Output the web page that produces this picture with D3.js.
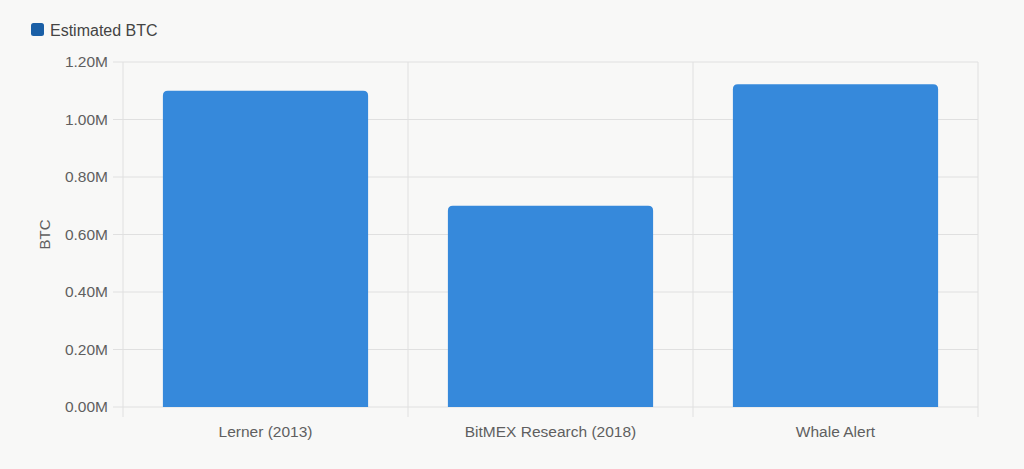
<!DOCTYPE html>
<html><head><meta charset="utf-8">
<script src="https://cdn.jsdelivr.net/npm/d3@7/dist/d3.min.js"></script>
<style>
html,body{margin:0;padding:0;background:#f8f8f7;}
text{font-family:"Liberation Sans",Arial,sans-serif;}
</style></head>
<body>
<svg id="c" width="1024" height="469"></svg>
<script>
const categories = ["Lerner (2013)", "BitMEX Research (2018)", "Whale Alert"];
const values = [1100000, 700000, 1123000];
const yTicks = [0, 200000, 400000, 600000, 800000, 1000000, 1200000];
const seriesName = "Estimated BTC";
const yAxisTitle = "BTC";

const svg = d3.select("#c");
const m = {left:123, right:978, top:62, bottom:407};
const x = d3.scaleBand().domain(categories).range([m.left, m.right]).paddingInner(0.28).paddingOuter(0.14);
const y = d3.scaleLinear().domain([0, 1200000]).range([m.bottom, m.top]);
const gridC = "#e0e0e0";
const textC = "#5f5f5f";

// horizontal gridlines
svg.append("g").selectAll("line").data(yTicks).join("line")
  .attr("x1", m.left - 10).attr("x2", m.right)
  .attr("y1", d => y(d)).attr("y2", d => y(d))
  .attr("stroke", gridC).attr("stroke-width", 1);

// vertical gridlines at category boundaries
const bounds = categories.map(c => x(c) - x.step()*x.paddingInner()/2);
bounds.push(m.right);
svg.append("g").selectAll("line").data(bounds).join("line")
  .attr("x1", d => d).attr("x2", d => d)
  .attr("y1", m.top).attr("y2", m.bottom + 10)
  .attr("stroke", gridC).attr("stroke-width", 1);

// y labels
svg.append("g").selectAll("text").data(yTicks).join("text")
  .attr("x", m.left - 15).attr("y", d => y(d)).attr("dy", "0.35em")
  .attr("text-anchor", "end").attr("font-size", 15.5).attr("fill", textC)
  .text(d => (d/1e6).toFixed(2) + "M");

// bars with rounded top corners
const r = 5;
svg.append("g").selectAll("path").data(categories).join("path")
  .attr("fill", "#3689db")
  .attr("d", (c, i) => {
    const x0 = x(c), w = x.bandwidth(), y0 = y(values[i]), yb = y(0);
    return `M${x0},${yb}V${y0 + r}Q${x0},${y0} ${x0 + r},${y0}H${x0 + w - r}Q${x0 + w},${y0} ${x0 + w},${y0 + r}V${yb}Z`;
  });

// x labels
svg.append("g").selectAll("text").data(categories).join("text")
  .attr("x", c => x(c) + x.bandwidth()/2).attr("y", 437)
  .attr("text-anchor", "middle").attr("font-size", 15.5).attr("fill", textC)
  .text(c => c);

// y axis title
svg.append("text")
  .attr("transform", `translate(50,${(m.top + m.bottom)/2}) rotate(-90)`)
  .attr("text-anchor", "middle").attr("font-size", 15).attr("fill", textC)
  .text(yAxisTitle);

// legend
svg.append("rect").attr("x", 31).attr("y", 23).attr("width", 13).attr("height", 13).attr("rx", 2.5)
  .attr("fill", "#1a5fa6");
svg.append("text").attr("x", 50).attr("y", 35.5).attr("font-size", 16).attr("fill", "#444").text(seriesName);
</script>
</body></html>
